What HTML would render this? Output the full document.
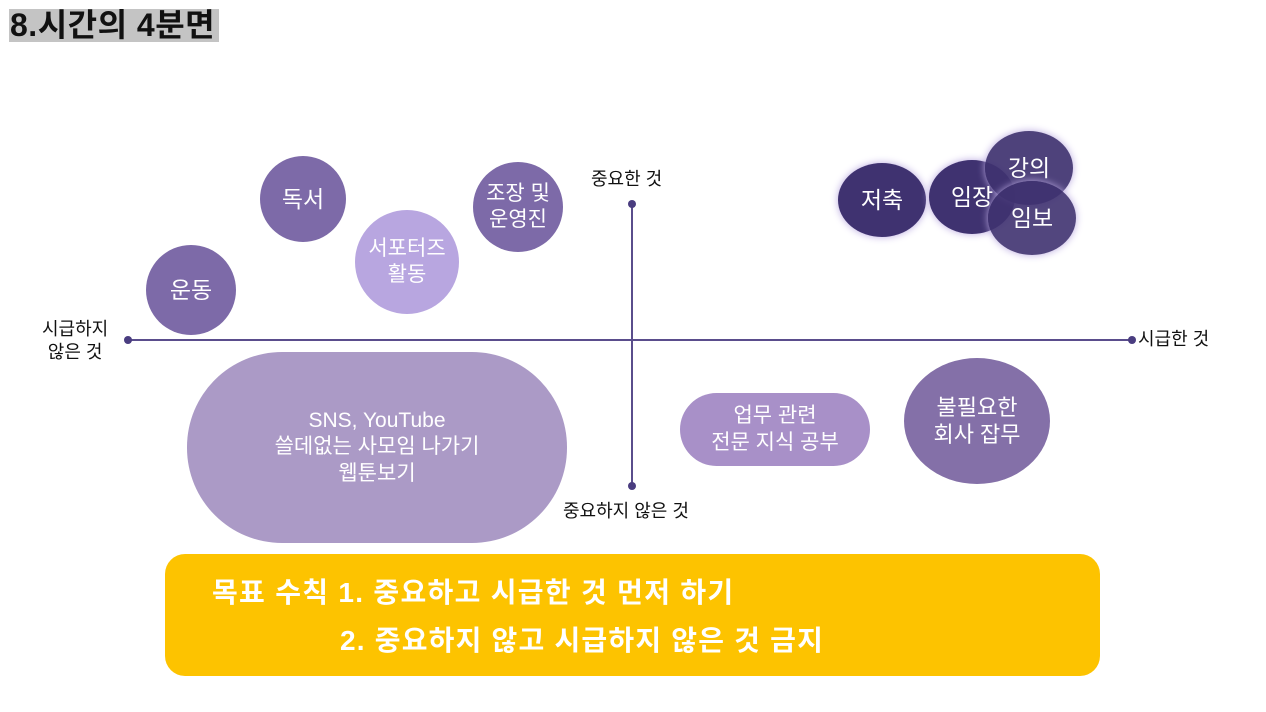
<!DOCTYPE html><html><head><meta charset="utf-8"><style>
body{margin:0;width:1266px;height:712px;background:#fff;position:relative;overflow:hidden;font-family:"Liberation Sans","Noto Sans CJK KR",sans-serif}
.a{position:absolute;display:flex;align-items:center;justify-content:center;text-align:center;color:#fff;border-radius:50%;line-height:1.25}
.t{position:absolute;font-size:18px;color:#111;line-height:1.3}
</style></head><body>
<div style="position:absolute;left:9px;top:9px;width:210px;height:33px;background:#c4c4c4"></div>
<div class="t" style="left:10px;top:4px;font-size:32px;font-weight:bold;line-height:42px;letter-spacing:0.5px">8.시간의 4분면</div>
<svg style="position:absolute;left:0;top:0" width="1266" height="712">
<line x1="128" y1="340" x2="1132" y2="340" stroke="#5a4d8c" stroke-width="2"/>
<line x1="632" y1="204" x2="632" y2="486" stroke="#5a4d8c" stroke-width="2"/>
<circle cx="128" cy="340" r="4" fill="#4a3d80"/><circle cx="1132" cy="340" r="4" fill="#4a3d80"/>
<circle cx="632" cy="204" r="4" fill="#4a3d80"/><circle cx="632" cy="486" r="4" fill="#4a3d80"/>
</svg>
<div class="t" style="left:42px;top:318px;text-align:center">시급하지<br>않은 것</div>
<div class="t" style="left:1138px;top:328px">시급한 것</div>
<div class="t" style="left:591px;top:168px">중요한 것</div>
<div class="t" style="left:563px;top:500px">중요하지 않은 것</div>
<div class="a" style="left:838px;top:163px;width:88px;height:74px;background:#3f3270;font-size:23px;box-shadow:0 0 8px #b9a8e0">저축</div>
<div class="a" style="left:929px;top:160px;width:86px;height:74px;background:#3f3270;font-size:23px;box-shadow:0 0 8px #b9a8e0"></div>
<div class="a" style="left:985px;top:131px;width:88px;height:74px;background:rgba(63,50,112,.92);font-size:23px;box-shadow:0 0 8px #b9a8e0">강의</div>
<div class="a" style="left:988px;top:181px;width:88px;height:74px;background:rgba(63,50,112,.9);font-size:23px;box-shadow:0 0 8px #b9a8e0">임보</div>
<div class="a" style="left:929px;top:160px;width:86px;height:74px;background:transparent;font-size:23px">임장</div>
<div class="a" style="left:260px;top:156px;width:86px;height:86px;background:#7d6aa8;font-size:23px">독서</div>
<div class="a" style="left:473px;top:162px;width:90px;height:90px;background:#7d6aa8;font-size:21px">조장 및<br>운영진</div>
<div class="a" style="left:355px;top:210px;width:104px;height:104px;background:#b8a6e0;font-size:21px">서포터즈<br>활동</div>
<div class="a" style="left:146px;top:245px;width:90px;height:90px;background:#7d6aa8;font-size:23px">운동</div>
<div class="a" style="left:187px;top:352px;width:380px;height:191px;border-radius:95px;background:#ab9ac6;font-size:21px">SNS, YouTube<br>쓸데없는 사모임 나가기<br>웹툰보기</div>
<div class="a" style="left:680px;top:393px;width:190px;height:73px;border-radius:37px;background:#a890c8;font-size:21px">업무 관련<br>전문 지식 공부</div>
<div class="a" style="left:904px;top:358px;width:146px;height:126px;background:#8470a8;font-size:22px">불필요한<br>회사 잡무</div>
<div style="position:absolute;left:165px;top:554px;width:935px;height:122px;border-radius:20px;background:#fdc300"></div>
<div class="t" style="left:212px;top:575px;color:#fff;font-size:28px;font-weight:bold;letter-spacing:1.3px;white-space:nowrap">목표 수칙 1. 중요하고 시급한 것 먼저 하기</div>
<div class="t" style="left:340px;top:623px;color:#fff;font-size:28px;font-weight:bold;letter-spacing:1.2px;white-space:nowrap">2. 중요하지 않고 시급하지 않은 것 금지</div>
</body></html>
